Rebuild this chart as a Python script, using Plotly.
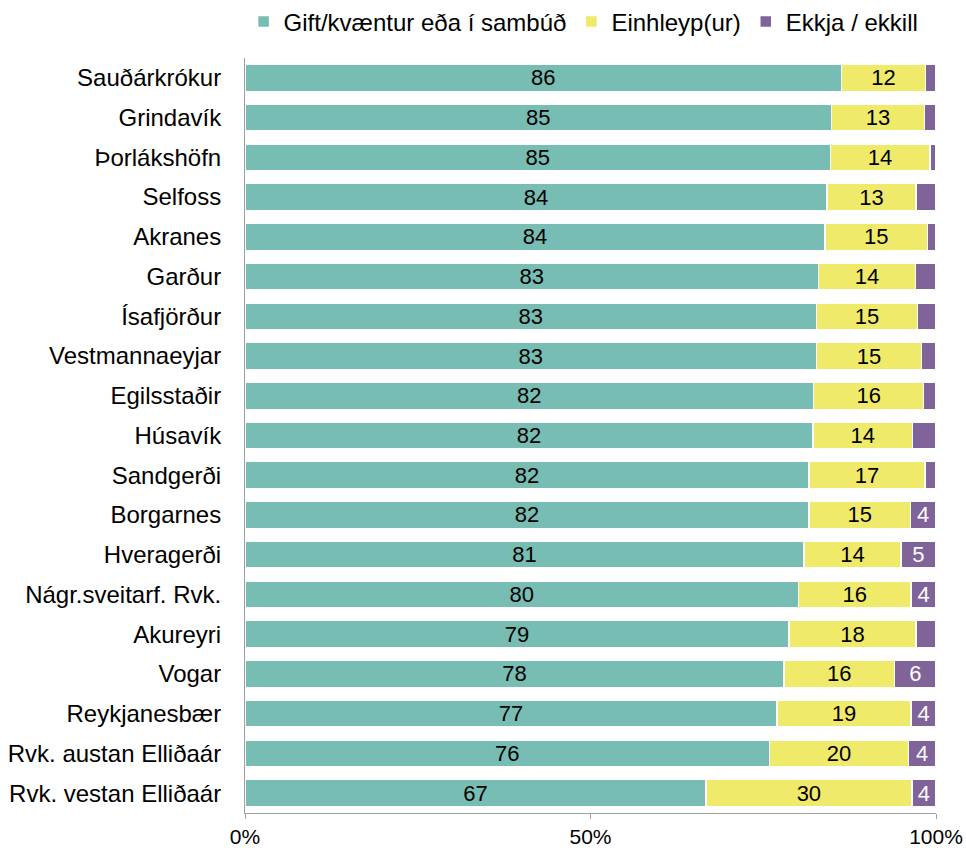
import plotly.graph_objects as go

categories = ["Sauðárkrókur", "Grindavík", "Þorlákshöfn", "Selfoss", "Akranes", "Garður",
              "Ísafjörður", "Vestmannaeyjar", "Egilsstaðir", "Húsavík", "Sandgerði", "Borgarnes",
              "Hveragerði", "Nágr.sveitarf. Rvk.", "Akureyri", "Vogar", "Reykjanesbær",
              "Rvk. austan Elliðaár", "Rvk. vestan Elliðaár"]
gift = [86.3, 84.9, 84.7, 84.2, 83.9, 83.0, 82.7, 82.7, 82.3, 82.2, 81.6, 81.6, 80.9, 80.1, 78.7, 78.0, 77.0, 75.9, 66.7]
einhleyp = [12.2, 13.4, 14.4, 12.9, 14.9, 14.0, 14.65, 15.2, 15.9, 14.4, 16.8, 14.7, 14.0, 16.3, 18.4, 16.0, 19.4, 20.1, 29.8]
ekkja = [1.5, 1.7, 0.9, 2.9, 1.2, 3.0, 2.65, 2.1, 1.8, 3.4, 1.6, 3.7, 5.1, 3.6, 2.9, 6.0, 3.6, 3.95, 3.5]
series_names = ["Gift/kvæntur eða í sambúð", "Einhleyp(ur)", "Ekkja / ekkill"]
colors = ["#77BDB3", "#F0EA6A", "#7F6399"]
text_colors = ["#000000", "#000000", "#FFFFFF"]
tick_vals = [0, 50, 100]
tick_text = ["0%", "50%", "100%"]

FONT = "Liberation Sans, Arial, sans-serif"

def labels(vals, min_show):
    return [str(int(round(v))) if v >= min_show else "" for v in vals]

fig = go.Figure()
for vals, name, col, tcol, mn in zip([gift, einhleyp, ekkja], series_names, colors, text_colors, [0, 0, 3.5]):
    fig.add_trace(go.Bar(
        y=categories, x=vals, name=name, orientation="h",
        marker=dict(color=col, line=dict(color="#FFFFFF", width=1.5)),
        text=labels(vals, mn), textposition="inside", insidetextanchor="middle",
        textangle=0, constraintext="none",
        textfont=dict(family=FONT, size=22, color=tcol),
    ))

fig.update_layout(
    barmode="stack", bargap=0.32,
    width=966, height=848,
    paper_bgcolor="white", plot_bgcolor="white",
    margin=dict(l=245, r=30, t=58, b=35, autoexpand=False),
    font=dict(family=FONT, size=22, color="#000000"),
    legend=dict(orientation="h", x=0.49, xanchor="center",
                yref="container", y=1 - 22 / 848, yanchor="middle",
                font=dict(family=FONT, size=24, color="#000000"), traceorder="normal",
                itemwidth=30),
    showlegend=True,
)
fig.update_xaxes(range=[0, 100], tickvals=tick_vals, ticktext=tick_text, showgrid=False,
                 zeroline=False, showline=True, linecolor="#A0A0A0", linewidth=1,
                 ticks="outside", ticklen=5, tickcolor="#A0A0A0", automargin=False,
                 tickfont=dict(family=FONT, size=21, color="#000000"))
fig.update_yaxes(categoryorder="array", categoryarray=categories, autorange="reversed",
                 showgrid=False, zeroline=False, showline=True, linecolor="#A0A0A0", linewidth=1,
                 ticks="", ticklabelstandoff=18, automargin=False,
                 tickfont=dict(family=FONT, size=24, color="#000000"))

fig.write_html("out.html", config={"displayModeBar": False},
               post_script="document.body.style.margin='0';document.body.style.overflow='hidden';")
